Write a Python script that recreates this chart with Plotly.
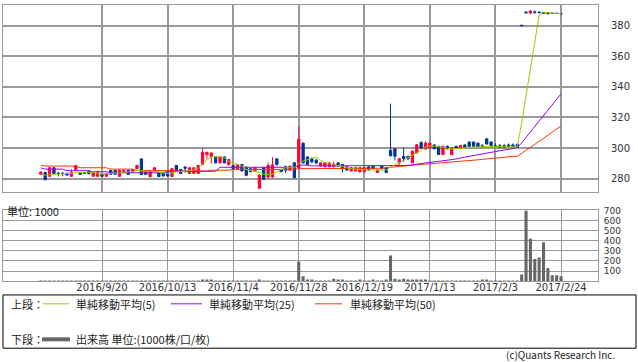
import pandas as pd
import plotly.graph_objects as go

W, H = 638, 362

HOLIDAYS = ["2016-09-19", "2016-09-22", "2016-10-10", "2016-11-03", "2016-11-23",
            "2016-12-23", "2017-01-02", "2017-01-03", "2017-01-09"]
DATES = [d for d in pd.bdate_range("2016-08-30", "2017-02-24")
         if d.strftime("%Y-%m-%d") not in HOLIDAYS]
TICK_LABELS = ["2016/9/20", "2016/10/13", "2016/11/4", "2016/11/28",
               "2016/12/19", "2017/1/13", "2017/2/3", "2017/2/24"]

OPEN = [
    282.8, 284.0, 281.5, 287.1, 283.6, 283.6, 283.5, 281.5, 286.0, 284.0,
    283.8, 285.0, 281.5, 281.5, 282.8, 281.5, 285.4, 285.4, 281.5, 284.3,
    285.4, 284.3, 286.6, 292.9, 285.0, 281.3, 285.0, 283.9, 283.9, 283.9,
    281.3, 288.6, 286.0, 287.5, 283.4, 283.4, 283.4, 289.2, 295.7, 294.6,
    294.2, 290.3, 294.2, 289.0, 288.6, 286.5, 289.2, 287.1, 286.5, 285.0,
    273.7, 287.1, 281.0, 281.0, 292.9, 286.0, 287.7, 285.5, 290.3, 287.1,
    303.2, 294.2, 293.0, 292.0, 288.2, 287.7, 287.7, 287.7, 290.3, 289.2,
    287.7, 285.0, 285.0, 284.5, 284.5, 287.7, 288.2, 284.0, 288.2, 287.1,
    298.5, 299.5, 290.5, 294.5, 294.5, 290.3, 296.8, 303.6, 299.4, 300.0,
    302.0, 301.1, 295.7, 301.0, 295.7, 301.0, 299.8, 302.0, 303.9, 303.9,
    303.2, 301.5, 306.0, 303.9, 301.5, 301.5, 301.5, 302.0, 302.0, 302.3,
    380.3, 389.0, 388.2, 389.0, 388.9, 388.6, 388.5, 388.2, 388.2, 388.0]
HIGH = [
    284.5, 284.5, 287.5, 287.5, 284.2, 284.2, 283.7, 286.0, 288.8, 284.3,
    284.3, 285.3, 284.3, 285.4, 283.0, 283.6, 285.6, 285.6, 286.0, 285.6,
    285.6, 286.0, 289.0, 293.2, 285.2, 285.4, 287.3, 284.1, 284.1, 284.1,
    286.7, 288.8, 286.2, 288.2, 287.3, 287.3, 288.8, 300.0, 297.4, 297.0,
    294.5, 294.5, 294.5, 292.8, 288.8, 289.4, 289.4, 288.2, 286.7, 287.3,
    283.0, 287.5, 290.5, 294.0, 293.5, 286.2, 288.5, 288.4, 291.0, 314.0,
    303.5, 294.5, 294.0, 293.0, 290.5, 290.5, 290.5, 291.0, 290.5, 289.5,
    287.9, 287.3, 287.3, 287.3, 287.3, 287.9, 288.4, 285.8, 288.4, 287.5,
    329.0, 300.0, 293.5, 300.0, 295.0, 298.5, 302.5, 304.5, 304.5, 303.5,
    302.5, 301.5, 301.5, 301.7, 300.5, 301.7, 301.9, 302.4, 304.2, 304.2,
    303.5, 302.5, 306.3, 304.2, 303.0, 302.6, 302.6, 303.0, 303.0, 303.0,
    380.3, 389.2, 390.0, 390.0, 389.2, 388.8, 388.7, 388.3, 388.3, 388.1]
LOW = [
    282.5, 278.8, 281.0, 283.0, 281.5, 281.5, 282.0, 281.3, 285.8, 282.5,
    283.0, 282.9, 281.3, 281.3, 281.3, 281.3, 282.5, 282.6, 281.3, 284.1,
    282.6, 284.1, 286.3, 282.5, 282.6, 280.6, 284.8, 281.1, 281.5, 281.5,
    281.1, 284.8, 283.2, 283.9, 283.2, 283.2, 283.2, 289.0, 293.0, 289.7,
    290.0, 290.0, 290.0, 288.8, 286.3, 286.3, 284.8, 281.5, 284.3, 284.8,
    273.5, 279.0, 280.0, 280.6, 288.5, 284.3, 283.5, 285.3, 280.3, 286.5,
    290.0, 289.0, 290.0, 289.5, 288.0, 287.5, 287.5, 287.5, 288.0, 284.0,
    285.4, 284.8, 284.8, 284.0, 284.0, 285.4, 286.3, 283.8, 286.3, 283.5,
    294.5, 292.0, 288.5, 291.0, 292.0, 290.0, 296.5, 299.5, 299.0, 299.8,
    299.3, 295.5, 295.5, 299.0, 295.5, 299.5, 299.6, 300.3, 300.9, 300.9,
    300.7, 300.7, 302.4, 301.5, 300.7, 300.4, 300.4, 300.7, 300.7, 300.2,
    380.0, 388.3, 388.0, 388.4, 388.4, 387.9, 387.7, 387.9, 387.9, 387.7]
CLOSE = [
    284.3, 279.3, 287.1, 283.4, 283.3, 283.3, 282.3, 284.0, 288.6, 282.8,
    283.6, 283.2, 284.0, 284.0, 281.5, 283.4, 282.8, 282.8, 285.4, 285.4,
    282.8, 285.8, 288.6, 282.8, 282.8, 285.2, 287.1, 281.3, 281.7, 281.7,
    286.5, 285.0, 283.4, 286.8, 287.1, 287.1, 288.6, 297.2, 297.2, 296.8,
    290.3, 294.2, 290.3, 292.5, 286.5, 289.2, 285.0, 282.2, 284.5, 287.1,
    282.2, 279.6, 288.6, 289.0, 289.2, 284.5, 285.5, 288.2, 280.6, 305.8,
    290.3, 289.2, 291.0, 290.3, 290.3, 290.3, 290.3, 289.5, 288.2, 286.5,
    285.6, 287.1, 287.1, 287.1, 287.1, 285.6, 286.5, 285.6, 286.5, 284.0,
    295.0, 294.6, 293.0, 293.0, 293.0, 297.9, 302.1, 300.0, 303.2, 303.2,
    299.5, 295.7, 301.1, 299.5, 300.0, 300.0, 301.7, 300.5, 301.1, 301.1,
    300.9, 300.9, 302.6, 301.7, 300.9, 300.6, 300.6, 300.9, 300.9, 300.4,
    380.0, 388.4, 389.6, 388.5, 388.5, 388.0, 387.8, 388.0, 388.0, 387.8]
VOLUME = [
    6, 6, 6, 6, 6, 6, 6, 6, 6, 6,
    6, 6, 6, 6, 6, 6, 6, 6, 6, 6,
    6, 6, 6, 6, 6, 6, 6, 6, 6, 6,
    6, 6, 6, 6, 6, 6, 6, 16, 16, 16,
    6, 6, 6, 6, 6, 6, 6, 6, 6, 6,
    16, 6, 6, 6, 6, 6, 6, 6, 6, 195,
    49, 16, 10, 6, 6, 6, 6, 23, 10, 10,
    6, 6, 6, 10, 6, 6, 10, 6, 6, 10,
    254, 23, 10, 23, 10, 10, 10, 10, 10, 6,
    6, 6, 6, 6, 6, 6, 6, 6, 6, 6,
    6, 10, 10, 6, 6, 6, 6, 6, 6, 6,
    65, 700, 420, 218, 234, 384, 130, 59, 59, 49]
MA5 = [
    282.5, 282.3, 282.6, 282.8, 283.0, 283.2, 283.4, 283.6, 284.0, 284.0,
    284.2, 284.3, 284.0, 283.6, 283.0, 283.2, 283.3, 283.5, 283.8, 284.2,
    284.4, 284.6, 285.4, 285.0, 284.6, 284.9, 285.0, 284.3, 283.6, 283.3,
    283.7, 284.4, 284.5, 285.0, 285.6, 285.8, 286.9, 290.0, 292.5, 294.2,
    294.2, 294.3, 293.8, 291.3, 290.3, 289.5, 288.2, 286.0, 285.3, 285.0,
    284.0, 283.0, 282.6, 283.0, 284.6, 286.0, 287.1, 287.6, 287.0, 290.0,
    291.5, 292.5, 293.2, 294.0, 292.0, 290.3, 290.0, 289.3, 288.5, 287.7,
    287.0, 286.5, 286.2, 285.8, 285.8, 285.7, 285.6, 285.6, 285.8, 285.6,
    287.5, 289.2, 290.5, 292.0, 293.5, 295.0, 296.6, 298.5, 300.5, 301.5,
    301.2, 301.0, 300.5, 299.8, 299.4, 299.6, 300.0, 300.3, 300.4, 300.6,
    300.8, 300.7, 301.0, 301.0, 301.0, 301.0, 300.9, 300.8, 300.7, 300.7,
    316.5, 334.2, 351.9, 369.6, 387.0, 388.6, 388.3, 388.1, 388.0, 387.9]
MA25 = [
    287.0, 286.2, 286.2, 286.2, 286.2, 286.2, 285.2, 285.2, 285.2, 285.2,
    285.2, 285.2, 284.5, 284.5, 284.5, 284.5, 283.8, 283.8, 283.8, 283.8,
    283.8, 283.8, 283.8, 283.8, 283.8, 283.8, 283.8, 283.8, 283.8, 284.8,
    284.8, 284.8, 284.8, 284.8, 284.8, 284.8, 284.8, 284.8, 284.8, 284.8,
    284.8, 287.4, 287.4, 287.4, 287.4, 287.4, 287.4, 287.4, 287.4, 287.4,
    287.4, 287.4, 287.4, 287.4, 287.4, 287.4, 287.4, 287.4, 287.4, 288.8,
    288.8, 288.8, 288.3, 288.3, 288.3, 288.3, 288.3, 288.3, 288.3, 288.3,
    288.3, 288.3, 288.3, 288.3, 288.3, 288.3, 288.3, 288.3, 288.3, 288.6,
    288.6, 288.6, 288.6, 288.6, 288.6, 289.0, 289.5, 289.9, 290.3, 290.7,
    291.0, 291.3, 291.6, 291.9, 292.2, 292.8, 293.5, 294.1, 294.7, 295.2,
    295.7, 296.2, 296.7, 297.2, 297.7, 298.2, 298.7, 299.2, 299.7, 300.2,
    303.4, 307.0, 310.6, 314.1, 317.7, 321.2, 324.8, 328.3, 331.8, 335.4]
MA50 = [
    288.8, 288.2, 288.2, 288.2, 288.2, 288.2, 288.2, 288.2, 288.2, 287.1,
    287.1, 287.1, 287.1, 287.1, 287.1, 287.1, 286.2, 286.2, 286.2, 286.2,
    286.2, 286.2, 285.4, 285.4, 285.4, 285.4, 285.4, 285.0, 285.0, 285.0,
    285.0, 285.0, 285.0, 285.0, 285.0, 285.0, 285.0, 285.0, 285.0, 285.5,
    285.5, 285.5, 285.5, 285.5, 286.0, 286.0, 286.0, 286.0, 286.0, 286.0,
    286.0, 286.0, 286.0, 286.0, 286.0, 286.0, 286.0, 286.0, 286.0, 286.5,
    286.5, 286.5, 286.5, 286.5, 286.5, 286.8, 286.8, 286.8, 286.8, 286.8,
    286.8, 286.8, 286.8, 286.8, 286.8, 286.8, 286.8, 286.8, 286.8, 287.2,
    287.5, 287.8, 288.0, 288.3, 288.6, 288.9, 289.1, 289.3, 289.5, 289.7,
    289.9, 290.1, 290.3, 290.5, 290.7, 290.9, 291.1, 291.4, 291.7, 292.0,
    292.3, 292.6, 292.9, 293.3, 293.6, 293.9, 294.1, 294.3, 294.5, 294.6,
    296.4, 298.4, 300.4, 302.4, 304.4, 306.4, 308.4, 310.4, 312.4, 314.4]

PRICE_TICKS = [280, 300, 320, 340, 360, 380]
VOL_TICKS = [100, 200, 300, 400, 500, 600, 700]

for arr in (OPEN, HIGH, LOW, CLOSE, VOLUME, MA5, MA25, MA50):
    assert len(arr) == len(DATES), len(arr)

X = list(range(len(DATES)))
ALL_LABELS = [f"{d.year}/{d.month}/{d.day}" for d in DATES]
TICK_POS = [ALL_LABELS.index(t) for t in TICK_LABELS]

RED, BLUE = "#ff0033", "#003399"
C5, C25, C50 = "#99cc00", "#9900ff", "#ff3300"
GRID = "#999999"
JP = "Noto Sans CJK JP"


def px_x(p):
    return p / W


def px_y(p):
    return 1 - p / H


fig = go.Figure()
fig.add_trace(go.Candlestick(
    x=X, open=OPEN, high=HIGH, low=LOW, close=CLOSE,
    increasing=dict(line=dict(color=RED, width=1), fillcolor=RED),
    decreasing=dict(line=dict(color=BLUE, width=1), fillcolor=BLUE),
    whiskerwidth=0, xaxis="x", yaxis="y", showlegend=False))
for vals, col in ((MA50, C50), (MA25, C25), (MA5, C5)):
    fig.add_trace(go.Scatter(x=X, y=vals, mode="lines", line=dict(color=col, width=1),
                             xaxis="x", yaxis="y", showlegend=False))
fig.add_trace(go.Bar(x=X, y=VOLUME, marker=dict(color="#666666", line=dict(width=0)),
                     width=0.7, xaxis="x2", yaxis="y2", showlegend=False))

xdom = [px_x(3), px_x(598)]
xrange = [-8.65, 127.46]
common_x = dict(domain=xdom, range=xrange, tickmode="array", tickvals=TICK_POS,
                showgrid=True, gridcolor=GRID, zeroline=False, showline=True,
                linecolor=GRID, mirror=True, ticks="", fixedrange=True)

fig.update_layout(
    width=W, height=H, margin=dict(l=0, r=0, t=0, b=0),
    paper_bgcolor="white", plot_bgcolor="white", boxgap=0.25,
    font=dict(family="DejaVu Sans", color="#333333"),
    xaxis=dict(**common_x, anchor="y", showticklabels=False, gridwidth=2,
               rangeslider=dict(visible=False)),
    yaxis=dict(domain=[px_y(190), px_y(0.5)], range=[271.0, 393.2], side="right",
               tickmode="array", tickvals=PRICE_TICKS, showgrid=True, gridcolor=GRID,
               gridwidth=2, zeroline=False, showline=True, linecolor=GRID, mirror=True,
               ticks="", ticklabelstandoff=10, tickfont=dict(size=10, color="#333333"),
               anchor="x"),
    xaxis2=dict(**common_x, anchor="y2", matches="x", showticklabels=True,
                ticktext=TICK_LABELS, gridwidth=1, ticklabelstandoff=-3,
                tickfont=dict(size=10, color="#333333")),
    yaxis2=dict(domain=[px_y(280), px_y(208.3)], range=[0, 700], side="right",
                tickmode="array", tickvals=VOL_TICKS, showgrid=True, gridcolor=GRID,
                gridwidth=1, zeroline=False, showline=True, linecolor=GRID, mirror=True,
                ticks="", ticklabelstandoff=3, tickfont=dict(size=9, color="#333333"),
                anchor="x2"),
)

shapes = [dict(type="rect", xref="paper", yref="paper", x0=px_x(3), x1=px_x(636),
               y0=px_y(348), y1=px_y(294), line=dict(color="#000000", width=1))]
for x0, x1, yy, col, wd in ((43, 69, 303, C5, 1), (171, 202, 303, C25, 1),
                            (315, 342, 303, C50, 1), (42, 70, 339, "#666666", 4)):
    shapes.append(dict(type="line", xref="paper", yref="paper", x0=px_x(x0), x1=px_x(x1),
                       y0=px_y(yy), y1=px_y(yy), line=dict(color=col, width=wd)))
fig.update_layout(shapes=shapes)

texts = [
    ("上段：", 9, 303, "left", 11),
    ("単純移動平均(5)", 74, 303, "left", 11),
    ("単純移動平均(25)", 207, 303, "left", 11),
    ("単純移動平均(50)", 348, 303, "left", 11),
    ("下段：", 9, 339, "left", 11),
    ("出来高 単位:(1000株/口/枚)", 74, 339, "left", 11),
    ("単位: 1000", 5, 209, "left", 11),
    ("(c)Quants Research Inc.", 617, 354.5, "right", 10),
]
for t, xx, yy, anc, sz in texts:
    fig.add_annotation(text=t, xref="paper", yref="paper", x=px_x(xx), y=px_y(yy),
                       xanchor=anc, yanchor="middle", showarrow=False,
                       font=dict(family=JP, size=sz, color="#222222"))

fig.write_html("out.html")
